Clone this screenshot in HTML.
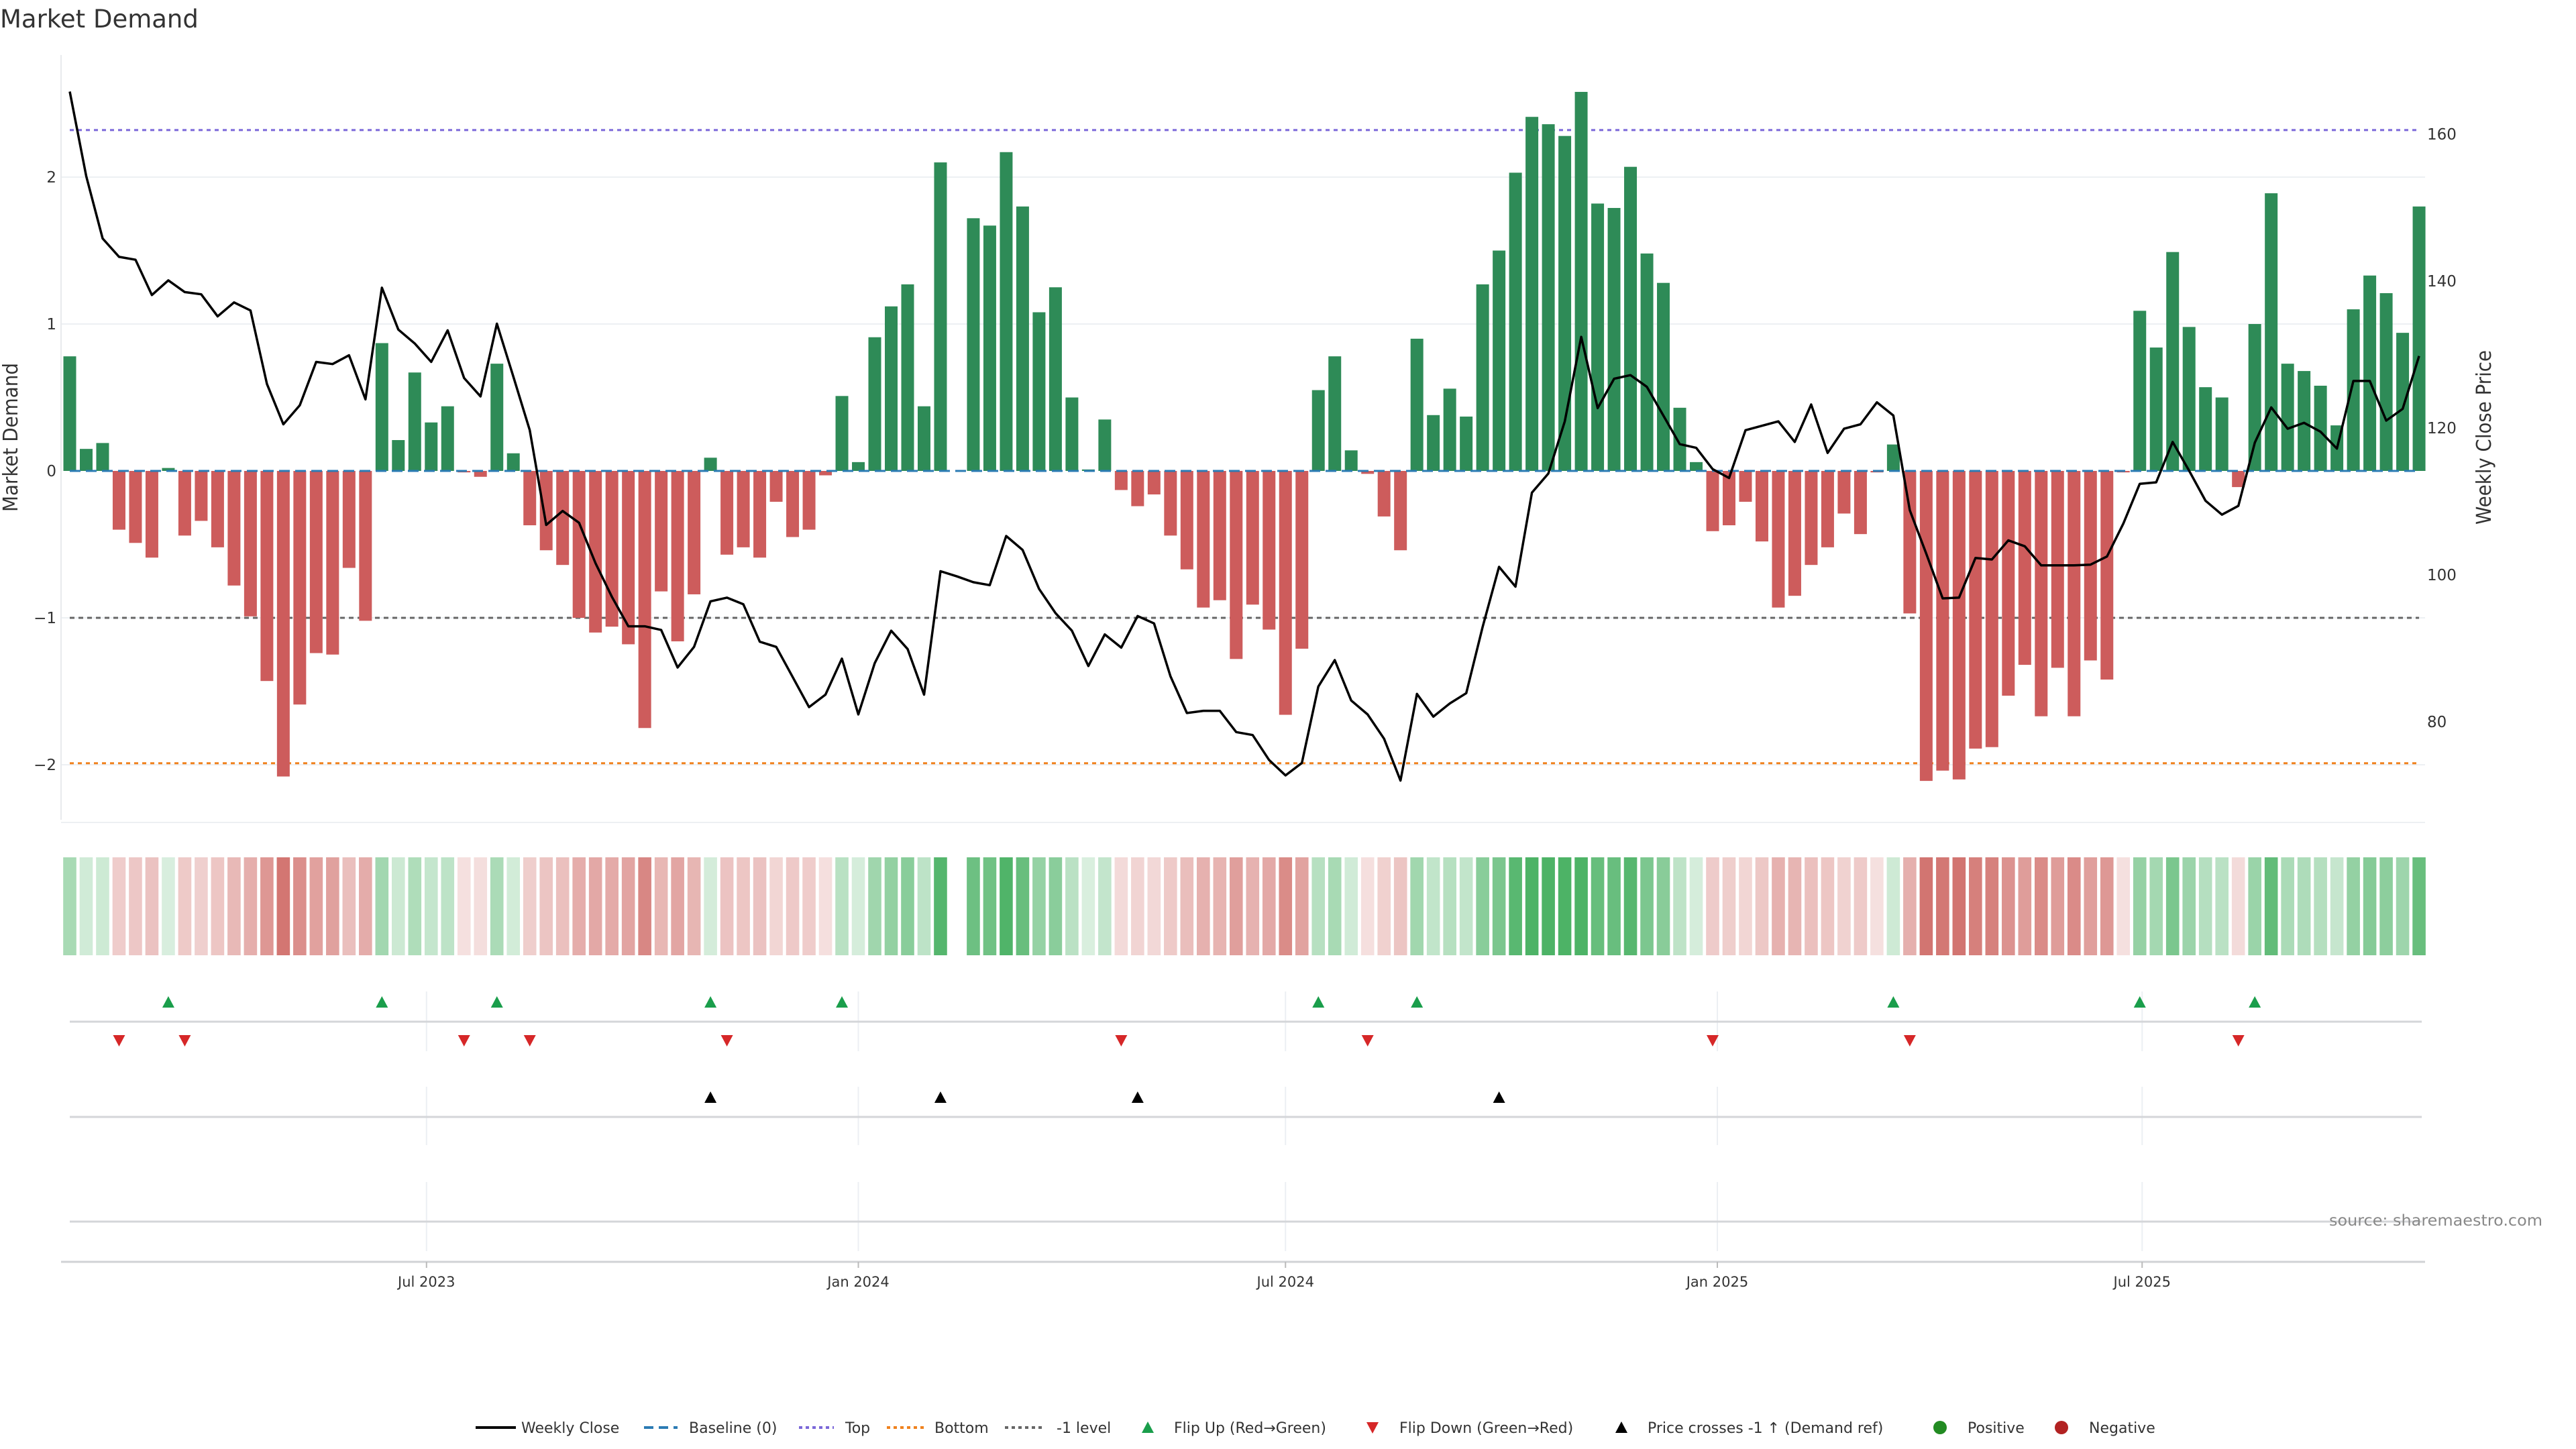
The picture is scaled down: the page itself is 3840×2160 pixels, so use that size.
<!DOCTYPE html>
<html><head><meta charset="utf-8"><title>Market Demand</title>
<style>html,body{margin:0;padding:0;background:#fff}svg{display:block}text{font-family:"DejaVu Sans","Liberation Sans",sans-serif}</style>
</head><body>
<svg id="chart" xmlns="http://www.w3.org/2000/svg" width="3840" height="2160" viewBox="0 0 3840 2160">
<rect width="3840" height="2160" fill="#fff"/>
<text x="0" y="41" font-size="37" fill="#333">Market Demand</text>
<g id="grid"></g><g id="hlines"></g><g id="bars"></g><g id="price"></g><g id="strip"></g><g id="markers"></g><g id="axes"></g>
<text transform="translate(26,652) rotate(-90)" text-anchor="middle" font-size="30" fill="#333" font-family="Liberation Sans, sans-serif" textLength="222" lengthAdjust="spacingAndGlyphs">Market Demand</text>
<text transform="translate(3713,652) rotate(-90)" text-anchor="middle" font-size="30" fill="#333" font-family="Liberation Sans, sans-serif" textLength="260" lengthAdjust="spacingAndGlyphs">Weekly Close Price</text>
<text x="3472" y="1827" font-size="23" fill="#888" textLength="318" lengthAdjust="spacingAndGlyphs">source: sharemaestro.com</text>
<g id="legend"></g>
</svg>
<script>
const demand = [0.78,0.15,0.19,-0.40,-0.49,-0.59,0.02,-0.44,-0.34,-0.52,-0.78,-0.99,-1.43,-2.08,-1.59,-1.24,-1.25,-0.66,-1.02,0.87,
0.21,0.67,0.33,0.44,-0.01,-0.04,0.73,0.12,-0.37,-0.54,-0.64,-1.00,-1.10,-1.06,-1.18,-1.75,-0.82,-1.16,-0.84,0.09,
-0.57,-0.52,-0.59,-0.21,-0.45,-0.40,-0.03,0.51,0.06,0.91,1.12,1.27,0.44,2.10,null,1.72,1.67,2.17,1.80,1.08,
1.25,0.50,0.01,0.35,-0.13,-0.24,-0.16,-0.44,-0.67,-0.93,-0.88,-1.28,-0.91,-1.08,-1.66,-1.21,0.55,0.78,0.14,-0.02,
-0.31,-0.54,0.90,0.38,0.56,0.37,1.27,1.50,2.03,2.41,2.36,2.28,2.58,1.82,1.79,2.07,1.48,1.28,0.43,0.06,
-0.41,-0.37,-0.21,-0.48,-0.93,-0.85,-0.64,-0.52,-0.29,-0.43,-0.01,0.18,-0.97,-2.11,-2.04,-2.10,-1.89,-1.88,-1.53,-1.32,
-1.67,-1.34,-1.67,-1.29,-1.42,-0.01,1.09,0.84,1.49,0.98,0.57,0.50,-0.11,1.00,1.89,0.73,0.68,0.58,0.31,1.10,
1.33,1.21,0.94,1.80];
const closePrice = [165.8,154.3,145.8,143.3,142.9,138.1,140.1,138.5,138.2,135.2,137.1,136.0,126.0,120.5,123.1,129.0,128.7,129.9,123.9,139.1,
133.4,131.5,129.0,133.3,126.8,124.3,134.2,127.0,119.7,106.8,108.7,107.1,101.6,97.0,93.0,93.0,92.5,87.4,90.2,96.4,
96.9,96.0,90.9,90.2,86.1,82.0,83.7,88.6,81.0,88.0,92.4,89.9,83.7,100.5,99.8,99.0,98.6,105.3,103.4,98.1,
94.8,92.4,87.6,91.9,90.1,94.4,93.4,86.2,81.2,81.5,81.5,78.6,78.2,74.8,72.7,74.4,84.8,88.4,82.9,81.0,
77.7,72.0,83.8,80.7,82.5,83.9,92.9,101.1,98.4,111.2,113.8,120.9,132.4,122.7,126.7,127.2,125.6,121.7,117.8,117.3,
114.4,113.2,119.7,120.3,120.9,118.1,123.2,116.6,119.9,120.5,123.5,121.7,108.8,102.9,96.8,96.9,102.3,102.1,104.7,103.9,
101.3,101.3,101.3,101.4,102.5,107.0,112.4,112.6,118.1,114.2,110.1,108.2,109.4,118.0,122.8,119.9,120.7,119.5,117.2,126.4,
126.4,121.0,122.6,129.8];
const priceCrossIdx = [39,53,65,87];
const yTicks = [-2,-1,0,1,2];
const priceTicks = [80,100,120,140,160];
const xTickLabels = ["Jul 2023","Jan 2024","Jul 2024","Jan 2025","Jul 2025"];
const xTickDates = ["2023-07-01","2024-01-01","2024-07-01","2025-01-01","2025-07-01"];
const startDate = "2023-01-30";
const levelTop = 2.32, levelBottom = -1.99, levelMinus1 = -1;

const NS="http://www.w3.org/2000/svg";
function mk(parent,tag,attrs){const e=document.createElementNS(NS,tag);for(const k in attrs)e.setAttribute(k,attrs[k]);document.getElementById(parent).appendChild(e);return e;}
const X0=104, DX=24.49, PL=91, PR=3615, PT=82, PB=1222;
const xi = i => X0 + DX*i;
const yv = v => 702 - 219*v;
const yp = p => 200 + (160-p)*10.95;
const xDate = s => xi((new Date(s) - new Date(startDate))/(7*86400000));
const N = demand.length;

// grid
yTicks.forEach(t=>{
  if(t!==0){const g=mk('grid','line',{x1:PL,x2:PR,y1:yv(t),y2:yv(t),stroke:'#edf0f3','stroke-width':2});
  
  }
  const l=mk('axes','text',{x:84,y:yv(t)+8,'text-anchor':'end','font-size':23,fill:'#333'});
  l.textContent = t<0 ? '\u2212'+Math.abs(t) : String(t);
  
  
});
priceTicks.forEach(t=>{
  const l=mk('axes','text',{x:3618,y:yp(t)+8,'font-size':23,fill:'#333'});
  l.textContent=String(t);
  
  
});
mk('grid','line',{x1:PL,x2:PR,y1:1226,y2:1226,stroke:'#edf0f3','stroke-width':2});
const la=mk('axes','line',{x1:PL,x2:PL,y1:PT,y2:PB,stroke:'#e8eaed','stroke-width':2});



// bars
demand.forEach((v,i)=>{
  if(v===null||v===0) return;
  const y0=yv(0), y1=yv(v);
  const r=mk('bars','rect',{x:xi(i)-9.5,width:19,y:Math.min(y0,y1),height:Math.max(1.5,Math.abs(y1-y0)),fill:v>0?'#2e8b57':'#cd5c5c'});
  
  
});
// level lines
function hl(v,color,dash,name){const e=mk('hlines','line',{x1:xi(0),x2:xi(N-1),y1:yv(v),y2:yv(v),stroke:color,'stroke-width':3,'stroke-dasharray':dash});
  
  }
hl(levelTop,'#7b68d9','6,6','top-line');
hl(levelBottom,'#f0821e','6,6','bottom-line');
hl(levelMinus1,'#666','7,6','minus-one-line');
const bl=mk('bars','line',{x1:xi(0),x2:xi(N-1),y1:yv(0),y2:yv(0),stroke:'#2b7bb4','stroke-width':3,'stroke-dasharray':'16,8'});



// price line
const pl=mk('price','polyline',{points:closePrice.map((p,i)=>xi(i).toFixed(1)+','+yp(p).toFixed(1)).join(' '),fill:'none',stroke:'#000','stroke-width':3.5,'stroke-linejoin':'round'});



// heat strip
demand.forEach((v,i)=>{
  if(v===null) return;
  const a=Math.min(0.85,0.18+0.3*Math.abs(v));
  const C=v>=0?[45,165,75]:[200,85,80];
  const c=C.map(k=>Math.round(255-a*(255-k)));
  const r=mk('strip','rect',{x:xi(i)-9.8,width:19.6,y:1278,height:146,fill:`rgb(${c})`});
  
  
});

// lower panels grid
xTickDates.forEach(d=>{
  const x=xDate(d);
  [[1478,1567],[1620,1707],[1762,1865]].forEach(s=>{
    const g=mk('grid','line',{x1:x,x2:x,y1:s[0],y2:s[1],stroke:'#eceff3','stroke-width':2});
    
    
  });
});
[1523,1665,1821].forEach(y=>{
  const g=mk('grid','line',{x1:xi(0),x2:xi(N-1)+4,y1:y,y2:y,stroke:'#d4d6d9','stroke-width':3});
  
  
});
const xa=mk('axes','line',{x1:PL,x2:PR,y1:1881,y2:1881,stroke:'#d0d2d5','stroke-width':3});


xTickDates.forEach((d,k)=>{
  const x=xDate(d);
  mk('axes','line',{x1:x,x2:x,y1:1881,y2:1890,stroke:'#bbb','stroke-width':2});
  const t=mk('axes','text',{x:x,y:1918,'text-anchor':'middle','font-size':21,fill:'#333'});
  t.textContent=xTickLabels[k];
  
  
});

// flip markers
function tri(x,y,up,color,name){
  const pts = up ? `${x},${y-9} ${x-9},${y+8} ${x+9},${y+8}` : `${x-9},${y-8} ${x+9},${y-8} ${x},${y+9}`;
  const e=mk('markers','polygon',{points:pts,fill:color});
  
  
}
let lastSign=0;
demand.forEach((v,i)=>{
  if(v===null||v===0) return;
  const s=v>0?1:-1;
  if(lastSign!==0 && s!==lastSign){
    if(s>0) tri(xi(i),1494,true,'#1a9e4b','flip-up-marker');
    else tri(xi(i),1551,false,'#d62728','flip-down-marker');
  }
  lastSign=s;
});
priceCrossIdx.forEach(i=>tri(xi(i),1636,true,'#000','price-cross-marker'));

// legend
const L=2128;
function lg(x1,x2,color,dash,w){const e=mk('legend','line',{x1:x1,x2:x2,y1:L,y2:L,stroke:color,'stroke-width':w,'stroke-dasharray':dash});
  
  }
function lt(x,s){const t=mk('legend','text',{x:x,y:L+8,'font-size':22,fill:'#333'});t.textContent=s;
  
  }
lg(709,769,'#000','none',4);lt(777,'Weekly Close');
lg(960,1010,'#2b7bb4','14,8',4);lt(1027,'Baseline (0)');
lg(1191,1243,'#7b68d9','5,5',4);lt(1260,'Top');
lg(1322,1380,'#f0821e','5,5',4);lt(1393,'Bottom');
lg(1498,1556,'#666','5,5',4);lt(1575,'-1 level');
tri(1711,L,true,'#1a9e4b','legend-flip-up');lt(1750,'Flip Up (Red\u2192Green)');
tri(2046,L,false,'#d62728','legend-flip-down');lt(2086,'Flip Down (Green\u2192Red)');
tri(2417,L,true,'#000','legend-price-cross');lt(2456,'Price crosses -1 \u2191 (Demand ref)');
const c1=mk('legend','circle',{cx:2892,cy:L,r:10,fill:'#228b22'});


lt(2933,'Positive');
const c2=mk('legend','circle',{cx:3073,cy:L,r:10,fill:'#b22222'});


lt(3114,'Negative');
</script>
</body></html>
